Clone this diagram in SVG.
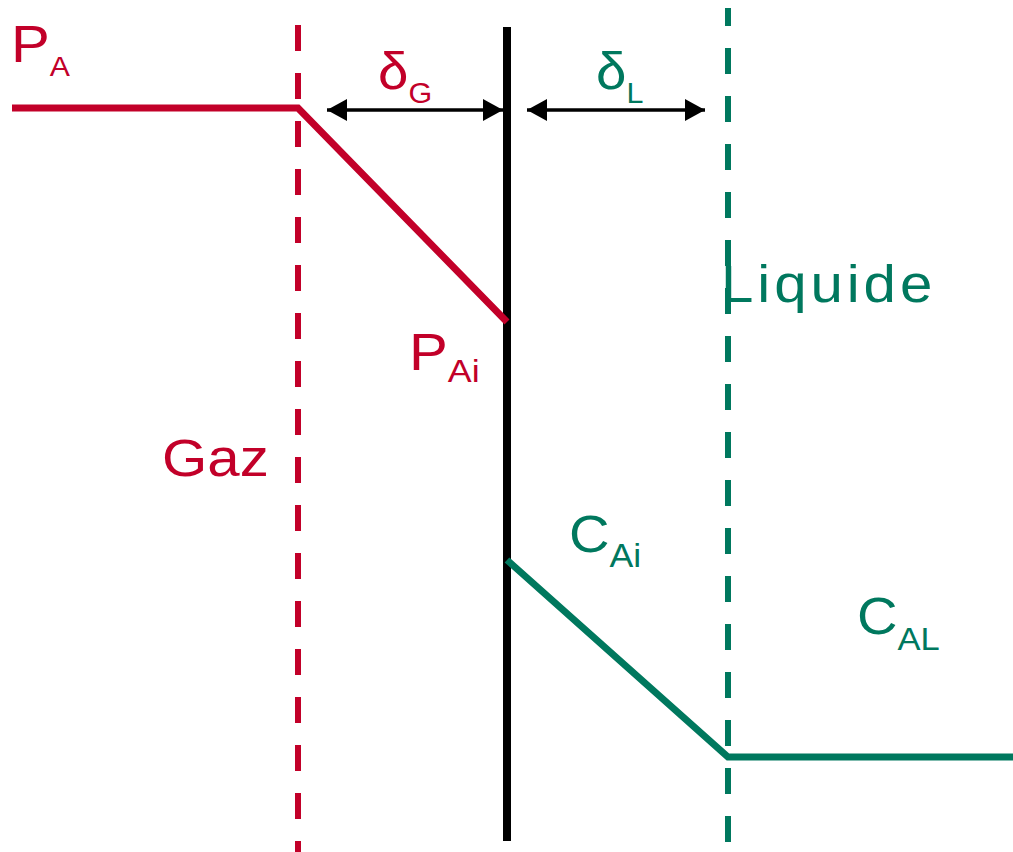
<svg xmlns="http://www.w3.org/2000/svg" width="1013" height="852" viewBox="0 0 1013 852">
<defs>
<style>
.red{fill:#C20029}
.grn{fill:#00785E}
text{font-family:"Liberation Sans",Arial,sans-serif}
.big{font-size:52px}
.lbl{font-size:52px}
.dash{stroke-width:6;stroke-dasharray:26 22;fill:none}
.arr{stroke:#000;stroke-width:3.5;fill:none;marker-start:url(#ah);marker-end:url(#ah)}
</style>
<marker id="ah" viewBox="0 0 20 22" refX="20" refY="11" markerWidth="20" markerHeight="22" markerUnits="userSpaceOnUse" orient="auto-start-reverse">
<path d="M0,0 L20,11 L0,22 Z" fill="#000"/>
</marker>
</defs>
<rect width="1013" height="852" fill="#fff"/>
<g id="connectors">
<line id="gas-film" x1="298" y1="25" x2="298" y2="852" class="dash" stroke="#C20029"/>
<line id="liq-film" x1="728" y1="8" x2="728" y2="852" class="dash" stroke="#00785E" stroke-dashoffset="8"/>
<line id="interface" x1="507" y1="27" x2="507" y2="841" stroke="#000" stroke-width="8"/>
<polyline id="gas-profile" points="12,108 298,108 507,322" fill="none" stroke="#C20029" stroke-width="7"/>
<polyline id="liq-profile" points="507,560 728,757 1013,757" fill="none" stroke="#00785E" stroke-width="7"/>
<line id="arrow-G" x1="327" y1="110" x2="503" y2="110" class="arr"/>
<line id="arrow-L" x1="527" y1="110" x2="705" y2="110" class="arr"/>
</g>
<g id="PA"><text transform="translate(11,62) scale(1.12,1)" class="red big">P<tspan font-size="27" dy="14">A</tspan></text></g>
<g id="deltaG"><text transform="translate(378,89) scale(1.05,1)" class="red" font-size="52">δ<tspan font-size="29" dy="14">G</tspan></text></g>
<g id="deltaL"><text transform="translate(596,89) scale(1.05,1)" class="grn" font-size="52">δ<tspan font-size="29" dy="14">L</tspan></text></g>
<g id="PAi"><text transform="translate(409,370) scale(1.12,1)" class="red big">P<tspan font-size="32" dy="12">Ai</tspan></text></g>
<g id="Gaz"><text transform="translate(162,476) scale(1.12,1)" class="red lbl">Gaz</text></g>
<g id="Liquide"><text transform="translate(721,302) scale(1.12,1)" class="grn lbl" letter-spacing="3.5">Liquide</text></g>
<g id="CAi"><text transform="translate(569,552) scale(1.08,1)" class="grn big">C<tspan font-size="33" dy="15">Ai</tspan></text></g>
<g id="CAL"><text transform="translate(857,634) scale(1.08,1)" class="grn big">C<tspan font-size="32" dy="16">AL</tspan></text></g>
</svg>
